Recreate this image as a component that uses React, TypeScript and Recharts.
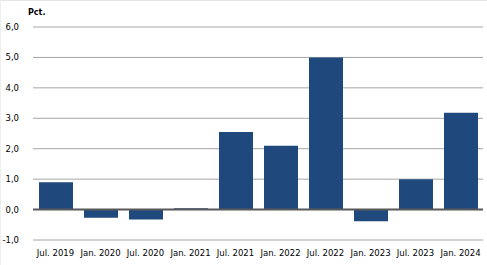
import React from "react";
import { BarChart, Bar, XAxis, YAxis, CartesianGrid, ReferenceLine } from "recharts";

const categories = ["Jul. 2019", "Jan. 2020", "Jul. 2020", "Jan. 2021", "Jul. 2021", "Jan. 2022", "Jul. 2022", "Jan. 2023", "Jul. 2023", "Jan. 2024"];
const values = [0.9, -0.27, -0.33, 0.04, 2.55, 2.1, 5.0, -0.38, 1.0, 3.18];
const yTicks = [-1, 0, 1, 2, 3, 4, 5, 6];
const unitLabel = "Pct.";

const data = categories.map((c, i) => ({ name: c, value: values[i] }));
const fmt = (v: number) => v.toFixed(1).replace(".", ",");
const FONT = "DejaVu Sans";

export default function App() {
  return (
    <div style={{ position: "absolute", left: 0, top: 0, width: 487, height: 265, background: "#fff" }}>
      <div style={{ position: "absolute", left: 0, top: 0, width: 486, height: 264, borderTop: "1px solid #e4e4e4", borderLeft: "1px solid #eeeeee" }} />
      <div style={{ position: "absolute", left: 28, top: 8, fontFamily: FONT, fontSize: 8, fontWeight: "bold", color: "#000" }}>{unitLabel}</div>
      <BarChart width={487} height={265} data={data} margin={{ top: 27, right: 4, bottom: 0, left: 0 }} barSize={34}>
        <CartesianGrid vertical={false} stroke="#a6a6a6" strokeWidth={1} />
        <XAxis dataKey="name" axisLine={false} tickLine={false} height={25} interval={0}
          tick={{ fontFamily: FONT, fontSize: 8.5, fill: "#000" }} tickMargin={4} />
        <YAxis domain={[-1, 6]} ticks={yTicks} axisLine={false} tickLine={false} width={33}
          tickFormatter={fmt} tick={{ fontFamily: FONT, fontSize: 8.5, fill: "#000" }} tickMargin={8} />
        <Bar dataKey="value" fill="#1f497d" isAnimationActive={false} />
        <ReferenceLine y={0} stroke="#595959" strokeWidth={2} />
      </BarChart>
    </div>
  );
}
